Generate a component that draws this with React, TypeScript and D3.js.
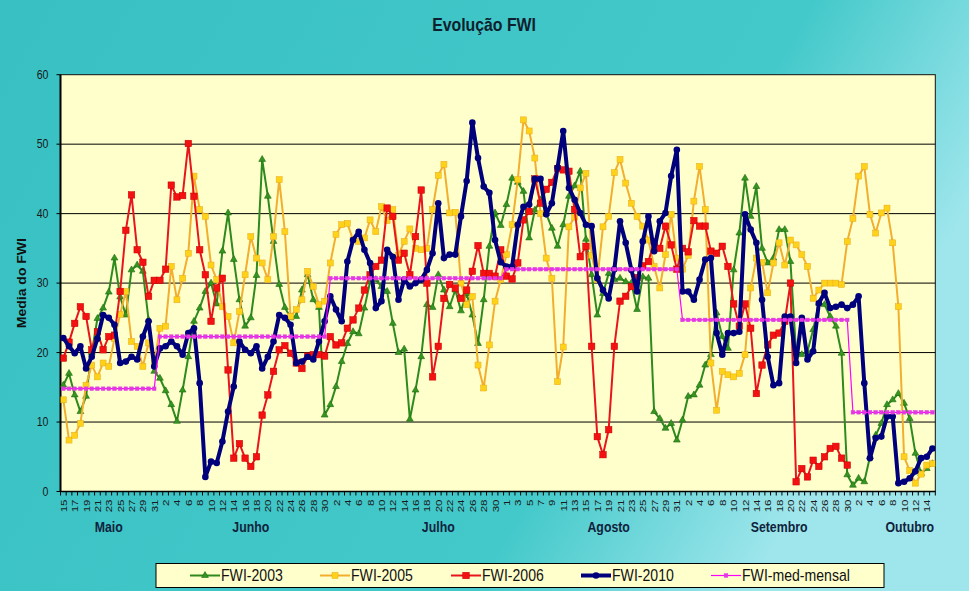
import React from 'react';
import * as d3 from 'd3';

// ---------- calendar ----------
const monthNames = ['Maio', 'Junho', 'Julho', 'Agosto', 'Setembro', 'Outubro'];
const monthFirstDay = [15, 1, 1, 1, 1, 1];
const monthLastDay = [31, 30, 31, 31, 30, 15];
// monthly mean FWI (FWI-med-mensal)
const monthMeans = [14.8, 22.3, 30.7, 32.0, 24.7, 11.4];
// day of each month under which the month caption sits
const monthCaptionDay = [23, 17, 20, 19, 18, 11];

// ---------- daily series, 15 May .. 15 Oct ----------
const fwi2003 = [
  15.3, 17.0, 13.9, 11.5, 13.7, 20.0, 24.9, 26.4, 28.7, 33.6, 28.0, 25.4, 31.9, 32.6, 31.7, 24.7, 17.3,
  16.3, 14.5, 12.5, 10.1, 14.6, 19.4, 24.5, 26.4, 28.8, 30.0, 27.0, 34.6, 40.1, 33.4, 27.6, 23.8, 25.0, 31.1, 47.8, 42.5, 36.0, 29.8, 26.5, 25.0, 25.2, 29.0, 31.2, 27.6, 26.5, 11.0,
  12.5, 15.1, 18.7, 21.3, 23.0, 22.7, 26.4, 30.2, 30.5, 29.5, 28.8, 24.2, 20.0, 20.5, 10.4, 14.6, 19.4, 26.9, 26.5, 31.2, 29.0, 26.6, 29.0, 26.0, 28.5, 25.4, 21.3, 27.6, 35.3, 40.1, 38.3,
  41.3, 45.1, 44.5, 43.2, 36.5, 40.5, 42.0, 40.0, 37.9, 35.3, 38.4, 42.5, 44.0, 46.1, 36.3, 31.2, 25.4, 28.5, 31.4, 30.5, 30.7, 30.2, 30.0, 26.2, 30.9, 30.7, 11.5, 10.5, 9.1, 9.8, 7.4,
  10.3, 13.7, 13.9, 15.3, 18.2, 19.7, 25.7, 22.3, 20.6, 31.9, 37.2, 45.1, 39.6, 43.9, 35.0, 32.9, 33.6, 37.7, 37.7, 33.1, 19.9, 19.7, 20.2, 23.3, 27.1, 26.9, 25.2, 23.8, 19.9, 2.4,
  0.9, 1.9, 1.4, 5.0, 8.1, 9.8, 12.5, 13.2, 14.1, 12.7, 10.5, 5.5, 2.6, 3.3, 4.0,
];
const fwi2005 = [
  13.2, 7.4, 8.1, 9.8, 15.3, 18.2, 16.5, 18.5, 18.0, 22.0, 25.5, 28.8, 21.6, 20.9, 18.0, 21.4, 18.5,
  23.5, 23.8, 32.4, 27.6, 30.7, 34.3, 45.4, 40.6, 39.6, 32.6, 30.5, 26.6, 25.2, 21.4, 25.9, 31.2, 36.7, 33.6, 32.9, 30.5, 36.7, 44.9, 37.4, 25.2, 26.2, 27.6, 31.7, 29.5, 26.9, 27.4,
  32.9, 37.0, 38.4, 38.6, 36.2, 36.0, 36.5, 39.1, 37.4, 41.0, 39.0, 40.6, 34.0, 36.0, 37.8, 35.0, 34.8, 35.0, 40.6, 45.5, 47.1, 40.1, 40.2, 30.0, 26.9, 28.1, 18.2, 14.9, 21.1, 27.4, 30.5,
  34.1, 38.4, 44.9, 53.5, 51.9, 48.0, 40.0, 33.6, 30.7, 15.8, 20.8, 38.1, 39.5, 43.7, 45.8, 34.0, 30.5, 38.1, 39.6, 45.9, 47.8, 44.4, 41.5, 39.6, 38.2, 36.2, 32.4, 29.3, 34.1, 39.9, 33.6,
  32.0, 34.0, 41.8, 46.8, 40.6, 18.5, 11.7, 17.3, 16.8, 16.5, 17.0, 19.7, 29.3, 33.6, 33.0, 28.6, 32.9, 35.8, 32.6, 36.2, 35.5, 34.1, 32.4, 27.8, 29.0, 30.0, 30.0, 30.0, 29.8, 36.0,
  39.3, 45.4, 46.8, 39.9, 37.2, 40.1, 40.8, 35.8, 26.6, 5.0, 3.0, 1.2, 2.5, 3.8, 4.0,
];
const fwi2006: (number | null)[] = [
  19.2, 21.5, 24.2, 26.6, 25.2, 20.4, 23.0, 20.4, 22.3, 22.5, 28.8, 37.6, 42.7, 34.8, 33.0, 28.1, 30.4,
  30.4, 32.0, 44.1, 42.4, 42.6, 50.1, 42.5, 34.8, 31.2, 24.5, 29.3, 30.7, 17.5, 4.8, 6.9, 4.8, 3.6, 5.0, 11.0, 13.9, 17.3, 20.4, 21.0, 19.9, 18.5, 17.7, 19.5, 19.7, 19.7, 19.5,
  22.3, 21.1, 21.4, 23.5, 24.7, 26.4, 29.0, 31.2, 32.4, 33.3, 40.8, 39.6, 33.3, 34.3, 31.2, 36.7, 43.4, 30.0, 16.5, 20.9, 27.8, 29.8, 29.3, 27.8, 29.0, 31.7, 35.4, 31.4, 31.4, 31.0, 34.8,
  31.0, 30.6, 32.9, 39.1, 40.3, 45.0, 41.5, 43.5, 44.5, 46.5, 46.3, 46.1, 40.6, 33.8, 35.3, 20.9, 7.9, 5.3, 8.9, 20.9, 27.4, 28.1, 29.5, 30.8, 32.5, 33.1, 36.0, 35.0, 38.2, 35.5, 32.0,
  35.0, 34.5, 39.0, 38.2, 38.2, 34.6, 34.3, 35.3, 32.4, 27.0, 23.8, 27.0, 23.5, 14.1, 18.2, 21.1, 22.5, 22.8, 24.5, 30.0, 1.4, 3.3, 2.1, 4.5, 3.6, 5.0, 6.2, 6.5, 4.8, 3.8,
  null, null, null, null, null, null, null, null, null, null, null, null, null, null, null,
];
const fwi2010 = [
  22.1, 20.9, 19.9, 20.9, 17.7, 19.4, 22.0, 25.4, 25.0, 24.0, 18.5, 18.7, 19.4, 19.0, 22.3, 24.5, 18.0,
  20.6, 20.9, 21.6, 20.9, 19.7, 22.8, 23.5, 15.6, 2.1, 4.3, 4.1, 7.2, 11.5, 15.1, 21.6, 20.4, 19.9, 20.9, 17.7, 19.4, 21.6, 25.4, 25.0, 24.0, 18.5, 18.7, 19.4, 19.0, 21.6, 24.5,
  28.1, 26.2, 24.5, 33.1, 36.2, 37.4, 34.8, 32.9, 26.4, 27.4, 34.8, 33.8, 27.6, 30.5, 29.5, 30.0, 30.5, 31.9, 34.3, 41.5, 33.6, 34.1, 34.1, 39.6, 44.7, 53.1, 48.0, 43.9, 43.0, 36.2, 33.0,
  32.4, 32.4, 38.4, 41.0, 41.3, 45.0, 45.0, 39.9, 41.5, 46.6, 51.9, 43.7, 42.0, 40.1, 38.4, 38.2, 30.7, 29.0, 27.8, 32.0, 38.9, 35.8, 31.9, 28.8, 36.0, 39.6, 34.6, 38.9, 40.1, 45.4, 49.2,
  28.8, 28.8, 27.6, 30.5, 33.4, 33.6, 22.8, 19.7, 22.8, 22.8, 23.0, 39.9, 37.7, 35.8, 27.6, 19.4, 15.3, 15.6, 25.2, 25.2, 18.5, 25.0, 19.0, 20.2, 27.1, 28.6, 26.4, 26.6, 26.9, 26.4,
  26.9, 28.1, 15.6, 4.8, 7.7, 7.9, 10.8, 10.8, 1.2, 1.4, 1.9, 2.9, 4.8, 5.0, 6.2,
];

const yTicks = [0, 10, 20, 30, 40, 50, 60];

// ---------- derived categories ----------
type Cat = { key: string; month: number; day: number };
const cats: Cat[] = [];
monthNames.forEach((_, m) => {
  for (let d = monthFirstDay[m]; d <= monthLastDay[m]; d++) cats.push({ key: `${m}-${d}`, month: m, day: d });
});
const medMensal = cats.map((c) => monthMeans[c.month]);

const W = 969;
const H = 591;
const plot = { left: 60.5, right: 935.3, top: 74.7, bottom: 491.5 };

const FONT = 'Arial, "Liberation Sans", Helvetica, sans-serif';

export default function App() {
  const x = d3
    .scalePoint<string>()
    .domain(cats.map((c) => c.key))
    .range([plot.left, plot.right])
    .padding(0.5);
  const step = x.step();
  const y = d3.scaleLinear().domain([0, 60]).range([plot.bottom, plot.top]);
  const px = (i: number) => x(cats[i].key) as number;

  const line = d3
    .line<number | null>()
    .defined((v) => v != null)
    .x((_, i) => px(i))
    .y((v) => y(v as number));

  const tri = d3.symbol(d3.symbolTriangle, 20)() as string;

  const series = [
    { name: 'FWI-2003', data: fwi2003 as (number | null)[], stroke: '#2e8a1e', width: 2, marker: 'tri', fill: '#35961f', mstroke: '#1f6a12' },
    { name: 'FWI-2005', data: fwi2005 as (number | null)[], stroke: '#f2ae2e', width: 2, marker: 'sq', fill: '#ffd21a', mstroke: '#e9a81c', size: 6 },
    { name: 'FWI-2006', data: fwi2006, stroke: '#e8161c', width: 2, marker: 'sq', fill: '#f31111', mstroke: '#c80000', size: 6.5 },
    { name: 'FWI-2010', data: fwi2010 as (number | null)[], stroke: '#00007c', width: 4, marker: 'circle', fill: '#00007c', mstroke: '#00007c' },
    { name: 'FWI-med-mensal', data: medMensal as (number | null)[], stroke: '#ff00ff', width: 1.2, marker: 'sq', fill: '#e23ae2', mstroke: '#e23ae2', size: 3.6 },
  ];

  const drawMarker = (s: any, cx: number, cy: number, k: string | number) => {
    if (s.marker === 'tri')
      return <path key={k} d={tri} transform={`translate(${cx},${cy})`} fill={s.fill} stroke={s.mstroke} strokeWidth={0.6} />;
    if (s.marker === 'circle') return <circle key={k} cx={cx} cy={cy} r={3.3} fill={s.fill} />;
    const z = s.size;
    return <rect key={k} x={cx - z / 2} y={cy - z / 2} width={z} height={z} fill={s.fill} stroke={s.mstroke} strokeWidth={0.5} />;
  };

  const legendX = [190, 320, 451, 581, 711];

  return (
    <svg width={W} height={H} style={{ position: 'absolute', left: 0, top: 0 }} fontFamily={FONT}>
      <defs>
        <linearGradient id="bg" x1="0" y1="0" x2="1" y2="0.35">
          <stop offset="0" stopColor="#38c0c2" />
          <stop offset="0.75" stopColor="#44c9ca" />
          <stop offset="1" stopColor="#9ee6ec" />
        </linearGradient>
        <clipPath id="clip">
          <rect x={plot.left} y={plot.top - 4} width={plot.right - plot.left} height={plot.bottom - plot.top + 8} />
        </clipPath>
      </defs>
      <rect x={0} y={0} width={W} height={H} fill="url(#bg)" />

      {/* title */}
      <text transform={`translate(${W / 2 - 0.5},31) scale(0.88,1)`} textAnchor="middle" fontSize={18} fontWeight="bold" fill="#0e1f2e">
        Evolução FWI
      </text>

      {/* plot area */}
      <rect x={plot.left} y={plot.top} width={plot.right - plot.left} height={plot.bottom - plot.top} fill="#ffffcc" />
      {yTicks.slice(1, -1).map((t) => (
        <line key={t} x1={plot.left} x2={plot.right} y1={y(t)} y2={y(t)} stroke="#000" strokeWidth={1} />
      ))}
      <rect x={plot.left} y={plot.top} width={plot.right - plot.left} height={plot.bottom - plot.top} fill="none" stroke="#111" strokeWidth={1} />
      <line x1={plot.left} x2={plot.left} y1={plot.top} y2={plot.bottom} stroke="#000" strokeWidth={2} />
      <line x1={plot.left} x2={plot.right} y1={plot.bottom} y2={plot.bottom} stroke="#000" strokeWidth={1.5} />

      {/* y axis */}
      {yTicks.map((t) => (
        <g key={t}>
          <line x1={plot.left - 4} x2={plot.left} y1={y(t)} y2={y(t)} stroke="#000" />
          <text transform={`translate(${plot.left - 12},${y(t) + 4}) scale(0.88,1)`} textAnchor="end" fontSize={12} fill="#1a1a1a">
            {t}
          </text>
        </g>
      ))}
      <text
        transform={`translate(26,${(plot.top + plot.bottom) / 2}) rotate(-90) scale(1,0.88)`}
        textAnchor="middle"
        fontSize={14}
        fontWeight="bold"
        fill="#111"
      >
        Media do FWI
      </text>

      {/* x axis ticks and labels */}
      {d3.range(cats.length + 1).map((i) => {
        const xx = plot.left + i * step;
        return <line key={i} x1={xx} x2={xx} y1={plot.bottom} y2={plot.bottom + 4} stroke="#000" strokeWidth={1} />;
      })}
      {cats.map((c, i) =>
        i % 2 === 0 ? (
          <text
            key={c.key}
            transform={`translate(${px(i) + 3.5},${plot.bottom + 8}) rotate(-90) scale(1,0.8)`}
            textAnchor="end"
            fontSize={11.5}
            fill="#1a1a1a"
          >
            {c.day}
          </text>
        ) : null,
      )}
      {monthNames.map((m, mi) => {
        const idx = cats.findIndex((c) => c.month === mi && c.day === monthCaptionDay[mi]);
        return (
          <text key={m} transform={`translate(${px(idx)},532) scale(0.88,1)`} textAnchor="middle" fontSize={14} fontWeight="bold" fill="#10233d">
            {m}
          </text>
        );
      })}

      {/* series */}
      <g clipPath="url(#clip)">
        {series.map((s) => (
          <g key={s.name}>
            <path d={line(s.data) as string} fill="none" stroke={s.stroke} strokeWidth={s.width} strokeLinejoin="round" />
            {s.data.map((v, i) => (v == null ? null : drawMarker(s, px(i), y(v), i)))}
          </g>
        ))}
      </g>

      {/* legend */}
      <rect x={156} y={563.5} width={728} height={24} fill="#ffffcc" stroke="#000" strokeWidth={1} />
      {series.map((s, k) => {
        const lx = legendX[k];
        const ly = 575.5;
        return (
          <g key={s.name}>
            <line x1={lx} x2={lx + 30} y1={ly} y2={ly} stroke={s.stroke} strokeWidth={s.width} />
            {drawMarker(s, lx + 15, ly, 'm')}
            <text transform={`translate(${lx + 31},581) scale(0.88,1)`} fontSize={16} fill="#111">
              {s.name}
            </text>
          </g>
        );
      })}
    </svg>
  );
}
